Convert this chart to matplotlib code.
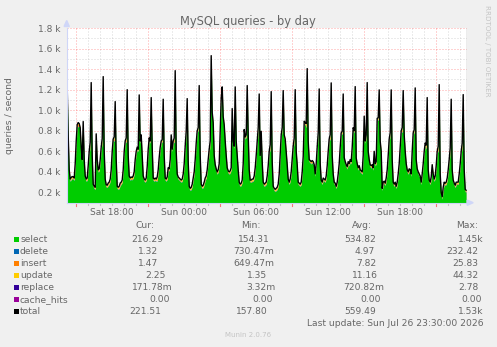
import numpy as np
import matplotlib
matplotlib.use('Agg')
import matplotlib.pyplot as plt
from matplotlib.patches import Rectangle, Polygon
from matplotlib.transforms import blended_transform_factory
from matplotlib.lines import Line2D

W, H = 497, 347

title = 'MySQL queries - by day'
ylabel = 'queries / second'
side_text = 'RRDTOOL / TOBI OETIKER'
footer = 'Munin 2.0.76'
last_update = 'Last update: Sun Jul 26 23:30:00 2026'

# total queries per 5-minute sample (one row per hour)
total = [
    1227, 760, 420, 330, 345, 355, 350, 340, 480, 700, 860, 880,
    870, 830, 640, 520, 890, 520, 360, 330, 340, 460, 600, 690,
    1269, 560, 280, 260, 250, 770, 520, 420, 430, 520, 640, 725,
    1327, 600, 330, 275, 270, 290, 300, 330, 420, 600, 720, 740,
    1084, 520, 260, 250, 260, 290, 300, 320, 420, 600, 700, 730,
    1200, 560, 360, 340, 350, 345, 360, 400, 520, 600, 640, 620,
    1149, 700, 760, 560, 360, 330, 320, 340, 450, 620, 730, 700,
    1123, 640, 340, 330, 340, 330, 350, 420, 540, 640, 700, 714,
    1107, 560, 340, 330, 350, 440, 430, 520, 760, 620, 700, 730,
    1385, 600, 380, 350, 340, 330, 320, 330, 380, 480, 650, 795,
    1113, 500, 260, 240, 250, 280, 340, 400, 520, 680, 800, 830,
    1240, 560, 280, 260, 270, 300, 340, 360, 420, 520, 620, 700,
    1531, 980, 880, 560, 470, 430, 400, 420, 480, 800, 1120, 1227,
    938, 860, 700, 560, 440, 410, 400, 410, 440, 1016, 700, 650,
    1227, 700, 560, 420, 300, 280, 290, 320, 480, 812, 740, 760,
    1240, 763, 420, 320, 320, 330, 330, 360, 440, 560, 700, 830,
    1158, 560, 795, 500, 300, 280, 290, 300, 360, 460, 600, 665,
    1181, 500, 260, 240, 230, 240, 250, 280, 380, 560, 760, 830,
    1191, 760, 720, 600, 470, 330, 300, 330, 400, 520, 650, 730,
    1200, 600, 470, 300, 290, 280, 300, 400, 550, 893, 880, 870,
    1405, 700, 520, 510, 500, 510, 500, 470, 380, 480, 640, 780,
    1207, 480, 320, 300, 340, 330, 320, 360, 460, 600, 720, 763,
    1266, 560, 380, 300, 290, 260, 300, 380, 480, 640, 780, 795,
    1158, 540, 500, 470, 450, 500, 480, 520, 500, 640, 830, 800,
    1230, 535, 480, 440, 460, 420, 410, 400, 560, 942, 700, 760,
    1269, 600, 520, 470, 460, 470, 440, 600, 480, 500, 922, 926,
    1198, 700, 600, 240, 300, 310, 290, 340, 420, 560, 720, 780,
    1198, 520, 300, 280, 300, 260, 300, 380, 480, 640, 800, 830,
    1191, 760, 600, 480, 420, 400, 430, 420, 380, 600, 780, 810,
    1217, 520, 430, 400, 380, 360, 300, 380, 480, 600, 680, 660,
    1123, 420, 320, 300, 350, 470, 380, 330, 360, 460, 600, 649,
    1249, 380, 200, 158, 250, 300, 290, 300, 340, 420, 520, 633,
    1107, 420, 320, 290, 270, 300, 300, 300, 380, 480, 600, 680,
    1152, 420, 230, 221,
]

delete_level = 4.97
update_level = 11.16
replace_level = 0.72
insert_level = 6.0
insert_peak_idx = [11, 23, 35, 47, 59, 90, 107, 142, 191, 203, 217, 227, 239, 263, 335, 359, 371, 383, 395]
insert_peak_val = [24, 25, 23, 24, 22, 22, 24, 25, 23, 24, 22, 25, 24, 25, 23, 24, 25, 22, 24]

ytick_vals = [200, 400, 600, 800, 1000, 1200, 1400, 1600, 1800]
ytick_labels = ['0.2 k', '0.4 k', '0.6 k', '0.8 k', '1.0 k', '1.2 k', '1.4 k', '1.6 k', '1.8 k']
yminor_vals = [100, 300, 500, 700, 900, 1100, 1300, 1500, 1700]
xtick_pos = [45.5, 117.5, 189.5, 261.5, 333.5]
xtick_labels = ['Sat 18:00', 'Sun 00:00', 'Sun 06:00', 'Sun 12:00', 'Sun 18:00']
xmajor_pos = [9.5, 81.5, 153.5, 225.5, 297.5, 369.5]
xminor_pos = [9.5 + 12 * k for k in range(33)]

series_names = ['select', 'delete', 'insert', 'update', 'replace', 'cache_hits', 'total']
series_colors = ['#00CC00', '#0066B3', '#FF8000', '#FFCC00', '#330099', '#990099', '#000000']
cur_vals = ['216.29', '1.32', '1.47', '2.25', '171.78m', '0.00', '221.51']
min_vals = ['154.31', '730.47m', '649.47m', '1.35', '3.32m', '0.00', '157.80']
avg_vals = ['534.82', '4.97', '7.82', '11.16', '720.82m', '0.00', '559.49']
max_vals = ['1.45k', '232.42', '25.83', '44.32', '2.78', '0.00', '1.53k']
col_headers = ['Cur:', 'Min:', 'Avg:', 'Max:']

# ---- layout (pixels) ----
header_x = [135, 241.3, 352.3, 455.7]
cur_x = [131, 138.3, 138.3, 145.7, 132.3, 149, 129]
min_x = [238.3, 233.3, 233.3, 247.3, 246.7, 252.3, 236]
avg_x = [344, 354.7, 356, 351.7, 343.3, 360, 344]
max_x = [458.3, 446.7, 452, 452.3, 458.3, 461.7, 458.3]
row_y = [239.3, 251.3, 263.3, 275.3, 287.3, 299.3, 311.3]

FONT = '#666666'
fig = plt.figure(figsize=(W / 100, H / 100), dpi=100, facecolor='#F0F0F0')

def fx(px):
    return px / W

def fy(py):
    return 1 - py / H

L, R, T, B = 66.7, 466.7, 28.0, 202.7
ax = fig.add_axes([fx(L), fy(B), (R - L) / W, (B - T) / H])
ax.set_facecolor('white')
ax.set_xlim(0, 400)
ax.set_ylim(100, 1800)

n = len(total)
x = np.arange(n) + 0.5
tot = np.array(total, dtype=float)
ins = np.full(n, insert_level)
ins[insert_peak_idx] = insert_peak_val
dele = np.full(n, delete_level)
upd = np.full(n, update_level)
rep = np.full(n, replace_level)
sel = tot - dele - ins - upd - rep

# grid
dot = (0, (1, 2))
for v in yminor_vals:
    ax.axhline(v, color='#808080', alpha=0.3, lw=0.72, ls=dot, zorder=0.5)
for v in ytick_vals:
    ax.axhline(v, color='#FF0000', alpha=0.35, lw=0.72, ls=dot, zorder=0.6)
for p in xminor_pos:
    if p not in xmajor_pos:
        ax.axvline(p, color='#808080', alpha=0.3, lw=0.72, ls=dot, zorder=0.5)
for p in xmajor_pos:
    ax.axvline(p, color='#FF0000', alpha=0.35, lw=0.72, ls=dot, zorder=0.6)

# stacked areas
ax.fill_between(x, 0, sel, color=series_colors[0], lw=0, zorder=2)
s1 = sel + dele
ax.fill_between(x, sel, s1, color=series_colors[1], lw=0, zorder=2)
s2 = s1 + ins
ax.fill_between(x, s1, s2, color=series_colors[2], lw=0, zorder=2)
s3 = s2 + upd
ax.fill_between(x, s2, s3, color=series_colors[3], lw=0, zorder=2)
s4 = s3 + rep
ax.fill_between(x, s3, s4, color=series_colors[4], lw=0, zorder=2)
ax.plot(x, tot, color='#000000', lw=1.0, zorder=3)

# right edge line
ax.axvline(400, color='#A0A0A0', lw=1.0, zorder=4)

for s in ['top', 'right']:
    ax.spines[s].set_visible(False)
for s in ['left', 'bottom']:
    ax.spines[s].set_color('#CFD6F8')
    ax.spines[s].set_linewidth(0.8)
    ax.spines[s].set_zorder(5)

ax.set_yticks(ytick_vals)
ax.set_yticklabels(ytick_labels)
ax.set_xticks(xtick_pos)
ax.set_xticklabels(xtick_labels)
ax.tick_params(axis='both', length=0, colors=FONT, labelsize=6.5)
ax.tick_params(axis='y', pad=4.8)
ax.tick_params(axis='x', pad=4.0)

# small tick marks under x axis
trans = blended_transform_factory(ax.transData, ax.transAxes)
for p in xminor_pos:
    maj = p in xmajor_pos
    ax.add_line(Line2D([p, p], [0, -(3.5 if maj else 2.0) / (B - T)], transform=trans,
                       color='#FF0000' if maj else '#808080', alpha=0.5 if maj else 0.4,
                       lw=0.8, clip_on=False))

# arrows
fig.patches.append(Polygon([[fx(L - 2.6), fy(26.5)], [fx(L + 2.6), fy(26.5)], [fx(L), fy(20.5)]],
                           closed=True, transform=fig.transFigure, color='#CFD6F8', zorder=6))
fig.patches.append(Polygon([[fx(R + 0.5), fy(B - 2.6)], [fx(R + 0.5), fy(B + 2.6)], [fx(R + 6.5), fy(B)]],
                           closed=True, transform=fig.transFigure, color='#CFD6F8', zorder=6))

# texts
fig.text(fx(248), fy(21.5), title, ha='center', va='center', fontsize=8.3, color=FONT)
fig.text(fx(10), fy(115.4), ylabel, ha='center', va='center', rotation=90, fontsize=6.7, color=FONT)
fig.text(fx(487), fy(51), side_text, ha='center', va='center', rotation=-90, fontsize=5.1, color='#C4C4C4')

for hx, htxt in zip(header_x, col_headers):
    fig.text(fx(hx), fy(225.7), htxt, ha='left', va='center', fontsize=6.6, color=FONT)

for i, name in enumerate(series_names):
    yy = row_y[i]
    fig.patches.append(Rectangle((fx(14), fy(yy + 2.7)), 5.3 / W, 5.3 / H, transform=fig.transFigure,
                                 color=series_colors[i], lw=0))
    fig.text(fx(20), fy(yy), name, ha='left', va='center', fontsize=6.6, color=FONT)
    fig.text(fx(cur_x[i]), fy(yy), cur_vals[i], ha='left', va='center', fontsize=6.6, color=FONT)
    fig.text(fx(min_x[i]), fy(yy), min_vals[i], ha='left', va='center', fontsize=6.6, color=FONT)
    fig.text(fx(avg_x[i]), fy(yy), avg_vals[i], ha='left', va='center', fontsize=6.6, color=FONT)
    fig.text(fx(max_x[i]), fy(yy), max_vals[i], ha='left', va='center', fontsize=6.6, color=FONT)

fig.text(fx(307.3), fy(323), last_update, ha='left', va='center', fontsize=6.6, color=FONT)
fig.text(fx(248), fy(335), footer, ha='center', va='center', fontsize=5.0, color='#C4C4C4')

fig.savefig('out.png', dpi=100, facecolor='#F0F0F0')
